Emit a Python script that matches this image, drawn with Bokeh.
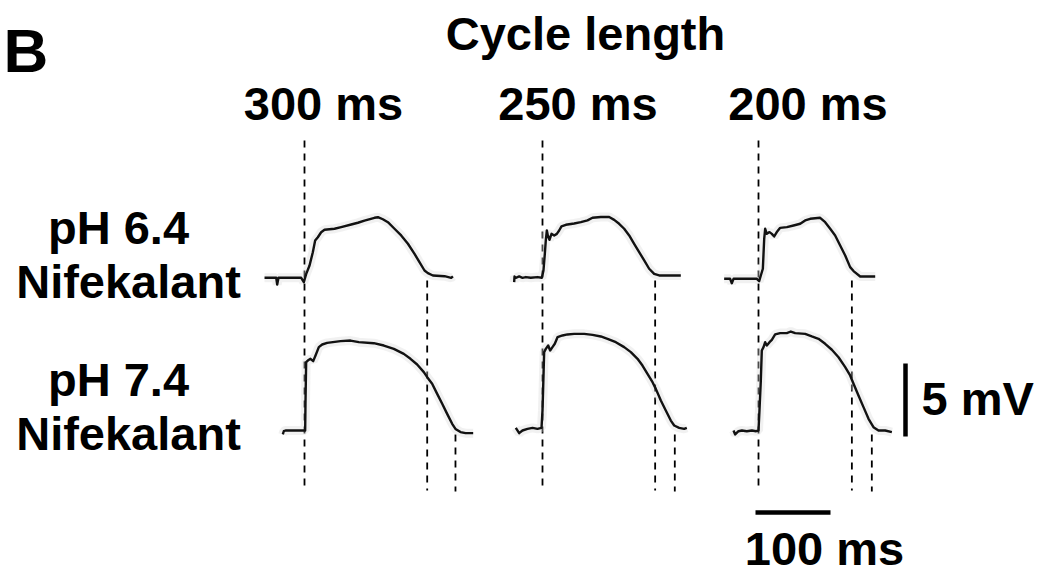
from bokeh.plotting import figure
from bokeh.models import Range1d
from bokeh.core.properties import value
from bokeh.embed import file_html
from bokeh.resources import INLINE

# ---------------- data (time in ms relative to stimulus, voltage in mV relative to baseline) -------------
cycle_lengths = ["300 ms", "250 ms", "200 ms"]
row_labels = [["pH 6.4", "Nifekalant"], ["pH 7.4", "Nifekalant"]]

# APD end markers (ms after stimulus)
apd_ph64 = [163.6, 150.2, 124.5]
apd_ph74 = [201.3, 176.4, 151.1]

# pH 6.4, CL 300 ms
t_64_300 = [-53.3, -37.7, -36.4, -34.7, -4.4, -0.9, 2.3, 6.7, 11.1, 14.2, 17.8, 22.2, 26.7, 40.0, 48.9,
            62.3, 71.2, 80.0, 93.3, 97.9, 104.5, 111.2, 120.0, 128.9, 137.9, 146.7, 153.3, 160.0, 164.5,
            171.2, 186.7, 195.6, 197.9]
v_64_300 = [0.0, 0.0, -0.46, 0.0, 0.0, -0.3, 0.27, 0.84, 1.75, 2.55, 2.78, 3.12, 3.29, 3.36, 3.47,
            3.65, 3.77, 3.92, 4.11, 4.15, 4.01, 3.81, 3.36, 2.9, 2.33, 1.64, 1.07, 0.5, 0.32,
            0.16, 0.11, 0.0, 0.1]

# pH 7.4, CL 300 ms
t_74_300 = [-28.9, -27.6, -25.3, -0.9, 0.9, 1.3, 2.2, 4.4, 8.0, 11.6, 14.7, 19.1, 23.6, 30.2, 48.0,
            61.3, 72.4, 92.4, 105.8, 119.1, 132.4, 141.3, 150.2, 159.1, 163.6, 170.2, 176.9, 183.6,
            190.2, 196.9, 201.3, 208.0, 214.7, 224.9]
v_74_300 = [-0.27, -0.05, 0.0, 0.0, 0.0, 1.83, 4.68, 4.79, 4.91, 4.75, 5.14, 5.71, 5.89, 6.0, 6.12,
            6.16, 6.05, 5.98, 5.82, 5.59, 5.25, 4.91, 4.52, 4.0, 3.65, 3.2, 2.51, 1.83,
            1.14, 0.46, 0.11, -0.11, -0.18, -0.18]

# pH 6.4, CL 250 ms
t_64_250 = [-37.8, -37.3, -35.6, -31.1, -26.7, -22.2, -15.6, -6.7, -0.9, 1.3, 3.1, 4.4, 5.8, 7.1, 9.3,
            12.0, 15.6, 19.1, 22.2, 25.3, 31.1, 42.2, 51.1, 60.0, 66.7, 77.8, 88.9, 95.6, 102.2,
            108.9, 115.6, 122.2, 128.9, 135.6, 142.2, 148.9, 155.6, 184.4]
v_64_250 = [-0.3, 0.09, 0.0, 0.09, 0.0, 0.05, 0.0, 0.05, 0.0, 0.5, 1.64, 2.56, 3.24, 2.9, 2.6,
            3.01, 2.9, 3.01, 3.24, 3.52, 3.63, 3.72, 3.81, 3.93, 4.11, 4.16, 4.16, 3.97, 3.7,
            3.36, 2.9, 2.33, 1.76, 1.19, 0.62, 0.27, 0.16, 0.16]

# pH 7.4, CL 250 ms
t_74_250 = [-35.6, -31.1, -26.7, -20.0, -13.3, -6.7, -1.3, 0.0, 0.9, 2.2, 4.4, 7.6, 10.2, 13.3, 16.4,
            20.0, 26.7, 33.3, 42.2, 55.6, 66.7, 77.8, 86.7, 97.8, 108.9, 117.8, 126.7, 133.3, 140.0,
            146.7, 151.1, 157.8, 164.4, 171.1, 175.6, 182.2, 188.9, 192.4]
v_74_250 = [0.18, -0.18, 0.0, 0.11, 0.18, 0.11, 0.18, 1.37, 2.97, 5.37, 5.59, 5.82, 5.48, 5.71, 5.94,
            6.39, 6.51, 6.58, 6.62, 6.62, 6.55, 6.44, 6.28, 6.05, 5.71, 5.37, 4.91, 4.45, 3.88,
            3.31, 2.85, 2.05, 1.37, 0.68, 0.34, 0.18, 0.11, 0.18]

# pH 6.4, CL 200 ms
t_64_200 = [-45.8, -37.8, -35.6, -33.3, -2.2, 0.9, 3.1, 5.8, 7.6, 8.9, 11.1, 14.7, 17.8, 20.9, 24.4,
            28.9, 37.8, 46.7, 55.6, 62.2, 68.9, 82.2, 88.9, 95.6, 102.2, 108.9, 115.6, 122.2, 126.7,
            135.6, 155.6]
v_64_200 = [-0.07, -0.07, -0.37, -0.07, -0.07, -0.23, 0.16, 0.62, 2.67, 3.36, 3.01, 3.13, 3.01, 2.83, 3.13,
            3.42, 3.47, 3.58, 3.7, 3.93, 4.04, 4.11, 3.81, 3.36, 2.9, 2.21, 1.53, 0.73, 0.46,
            0.09, 0.09]

# pH 7.4, CL 200 ms
t_74_200 = [-33.3, -31.1, -26.7, -22.2, -15.6, -8.9, -3.1, 0.0, 1.3, 3.1, 4.4, 6.7, 8.9, 11.1, 14.7,
            17.8, 22.2, 28.9, 37.8, 43.1, 48.9, 62.2, 71.1, 80.0, 88.9, 97.8, 106.7, 115.6, 122.2,
            126.7, 133.3, 140.0, 146.7, 153.3, 160.0, 168.9, 177.8]
v_74_200 = [0.0, -0.27, -0.05, 0.0, -0.05, 0.0, -0.05, 0.0, 1.37, 3.42, 5.48, 5.71, 6.05, 5.82, 6.05,
            6.21, 6.58, 6.67, 6.67, 6.78, 6.67, 6.62, 6.44, 6.28, 5.94, 5.53, 5.02, 4.34, 3.77,
            3.2, 2.4, 1.6, 0.8, 0.23, 0.0, 0.0, -0.11]

traces = [
    [(t_64_300, v_64_300), (t_64_250, v_64_250), (t_64_200, v_64_200)],
    [(t_74_300, v_74_300), (t_74_250, v_74_250), (t_74_200, v_74_200)],
]

scale_ms = 100
scale_mv = 5

# ---------------- layout (page pixels) ----------------
W, H = 1043, 576
PX_PER_MS = 0.75
PX_PER_MV = 14.6


def X(px):
    return px / PX_PER_MS


def Y(py):
    return -py / PX_PER_MV


col_px = [304, 542, 758]
row_px = [277.3, 430.0]

p = figure(width=W, height=H,
           x_range=Range1d(X(0), X(W)), y_range=Range1d(Y(H), Y(0)),
           x_axis_type=None, y_axis_type=None,
           output_backend="svg", toolbar_location=None, min_border=0)
p.grid.visible = False
p.outline_line_color = None
p.background_fill_color = "white"
p.border_fill_color = "white"

DASH = "7 6"
# stimulus lines
p.segment(x0=[X(c) for c in col_px], y0=[Y(140)] * 3, x1=[X(c) for c in col_px], y1=[Y(490)] * 3,
          line_color="black", line_width=1.8, line_dash=DASH)
# APD end lines
p.segment(x0=[X(c) + a for c, a in zip(col_px, apd_ph64)], y0=[Y(280)] * 3,
          x1=[X(c) + a for c, a in zip(col_px, apd_ph64)], y1=[Y(490)] * 3,
          line_color="black", line_width=1.8, line_dash=DASH)
p.segment(x0=[X(c) + a for c, a in zip(col_px, apd_ph74)], y0=[Y(434)] * 3,
          x1=[X(c) + a for c, a in zip(col_px, apd_ph74)], y1=[Y(491)] * 3,
          line_color="black", line_width=1.8, line_dash=DASH)

# traces
for r, row in enumerate(traces):
    for c, (t, v) in enumerate(row):
        xs = [X(col_px[c]) + ti for ti in t]
        ys = [Y(row_px[r]) + vi for vi in v]
        p.line(xs, ys, line_color="#d8d8d8", line_width=9, line_alpha=0.35)
        p.line(xs, ys, line_color="#111111", line_width=2.4, line_join="round")

# scale bars
p.line([X(755), X(755) + scale_ms], [Y(512), Y(512)], line_color="black", line_width=4.5)
p.line([X(905), X(905)], [Y(436), Y(436) + scale_mv], line_color="black", line_width=4.5)

FONT = value("Liberation Sans")


def txt(xs, ys_px, texts, size_px, align="center"):
    # compensate renderer baseline offset (~0.33 em)
    shift = 0.33 * size_px
    p.text(x=xs, y=[Y(yp - shift) for yp in ys_px], text=texts, text_font=FONT, text_font_style="bold",
           text_font_size=f"{size_px}px", text_align=align, text_baseline="alphabetic", text_color="black")


txt([X(3)], [70], ["B"], 62, "left")
txt([X(585)], [49], ["Cycle length"], 47)
txt([X(323), X(577.5), X(807.5)], [119] * 3, cycle_lengths, 47)
txt([X(118), X(118)], [243, 395], [row_labels[0][0], row_labels[1][0]], 47)
txt([X(128), X(128)], [297, 449], [row_labels[0][1], row_labels[1][1]], 47)
txt([X(921)], [414], [f"{scale_mv} mV"], 47, "left")
txt([X(824)], [564], [f"{scale_ms} ms"], 47)

open("out.html", "w").write(file_html(p, INLINE))
